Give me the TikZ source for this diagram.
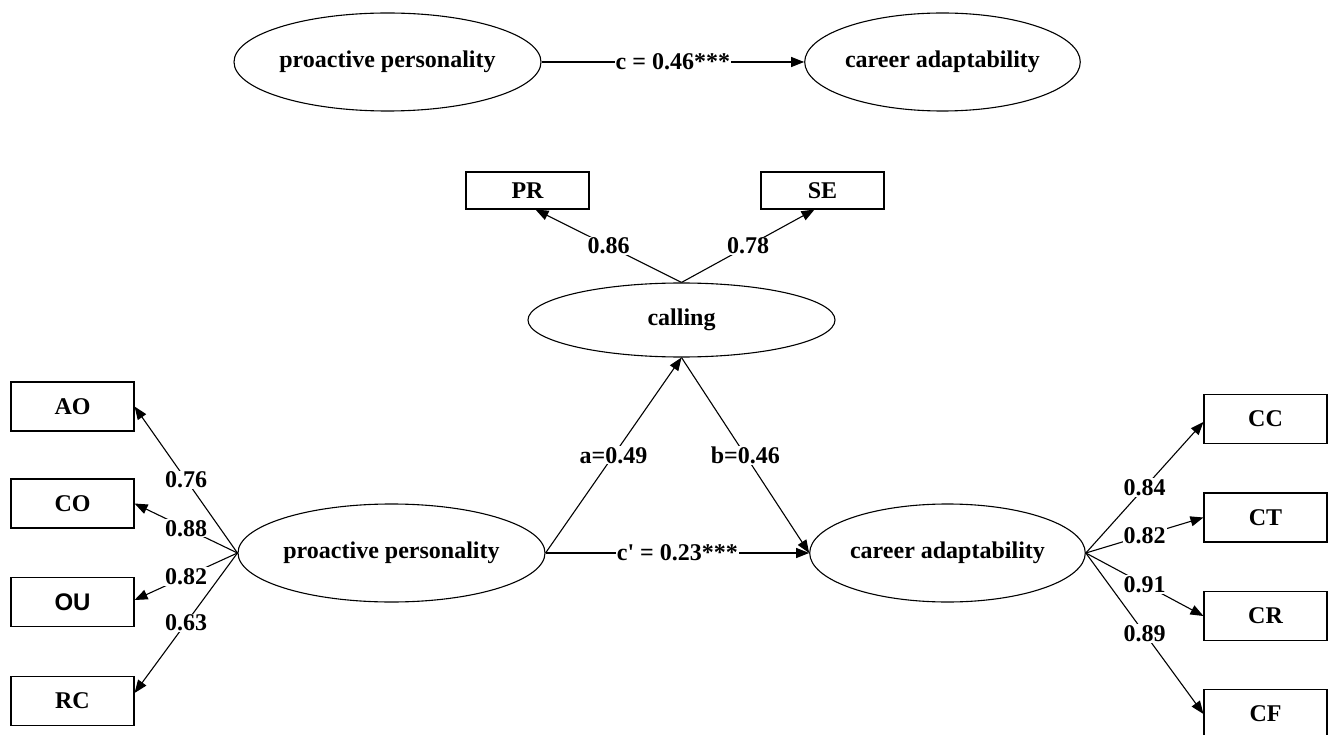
\documentclass[tikz,border=0pt]{standalone}
\usepackage{fontspec}
\setmainfont{Liberation Serif}
\newfontfamily\sansbold{Liberation Sans}
\usetikzlibrary{shapes.geometric,arrows.meta,calc}
\begin{document}
\begin{tikzpicture}[x=1pt,y=-1pt,
  every node/.style={font=\fontsize{24}{28}\selectfont\bfseries},
  latent/.style={draw,ellipse,line width=1.1pt,inner sep=0pt,minimum width=307pt,minimum height=98pt},
  latentw/.style={latent,minimum width=268pt},
  obs/.style={draw,rectangle,line width=1.1pt,inner sep=0pt,minimum width=123pt,minimum height=49pt},
  obss/.style={obs,minimum height=37pt},
  path/.style={line width=1.1pt,-{Triangle[length=13pt,width=10pt]}},
  lab/.style={fill=white,inner sep=1pt,pos=0.5}]
\useasboundingbox (0,0) rectangle (1328,735);
\clip (0,0) rectangle (1328,735);
% top model
\node[latent] (PPt) at (387.5,62) {proactive personality};
\node[latentw] (CAt) at (942.5,62) {career adaptability};
\draw[path] (PPt.east) -- node[lab] {c = 0.46***} (CAt.west);
% calling
\node[latent,minimum height=74pt] (CL) at (681.5,320) {calling};
\node[obss] (PR) at (527.5,190.5) {PR};
\node[obss] (SE) at (822.5,190.5) {SE};
\draw[path] (CL.north) -- node[lab] {0.86} ([xshift=8pt]PR.south);
\draw[path] (CL.north) -- node[lab] {0.78} ([xshift=-8pt]SE.south);
% bottom model
\node[latent] (PP) at (391.5,553) {proactive personality};
\node[latentw] (CA) at (947.5,553) {career adaptability};
\draw[path] (PP.east) -- node[lab] {a=0.49} (CL.south);
\draw[path] (CL.south) -- node[lab] {b=0.46} (CA.west);
\draw[path] (PP.east) -- node[lab] {c\textquotesingle{} = 0.23***} (CA.west);
% left indicators
\node[obs] (AO) at (72.5,406.5) {AO};
\node[obs] (CO) at (72.5,503.5) {CO};
\node[obs] (OU) at (72.5,602) {\sansbold OU};
\node[obs] (RC) at (72.5,701) {RC};
\draw[path] (PP.west) -- node[lab] {0.76} (AO.east);
\draw[path] (PP.west) -- node[lab] {0.88} (CO.east);
\draw[path] (PP.west) -- node[lab] {0.82} ([yshift=2pt]OU.east);
\draw[path] (PP.west) -- node[lab] {0.63} ([yshift=8pt]RC.east);
% right indicators
\node[obs] (CC) at (1265.5,419) {CC};
\node[obs] (CT) at (1265.5,517.5) {CT};
\node[obs] (CR) at (1265.5,616) {CR};
\node[obs] (CF) at (1265.5,714) {CF};
\draw[path] (CA.east) -- node[lab] {0.84} ([yshift=-3pt]CC.west);
\draw[path] (CA.east) -- node[lab] {0.82} (CT.west);
\draw[path] (CA.east) -- node[lab] {0.91} (CR.west);
\draw[path] (CA.east) -- node[lab] {0.89} (CF.west);
\end{tikzpicture}
\end{document}
